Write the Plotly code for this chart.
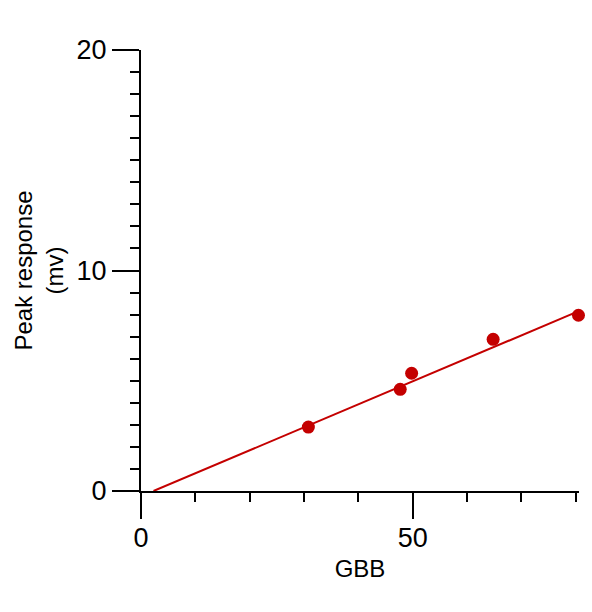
import plotly.graph_objects as go

# Data
gbb = [30.8, 47.7, 49.8, 64.8, 80.5]
peak = [2.90, 4.61, 5.34, 6.88, 7.97]
fit_x = [2.3, 80.0]
fit_y = [0.0, 8.1]

x_major = [0, 50]
x_minor = [10, 20, 30, 40, 60, 70, 80]
y_major = [0, 10, 20]
y_minor = [v for v in range(1, 20) if v % 10 != 0]

RED = "#C40000"
FONT = "Liberation Sans, Arial, sans-serif"

fig = go.Figure()
fig.add_trace(go.Scatter(x=fit_x, y=fit_y, mode="lines",
                         line=dict(color=RED, width=2), showlegend=False,
                         hoverinfo="skip"))
fig.add_trace(go.Scatter(x=gbb, y=peak, mode="markers",
                         marker=dict(color=RED, size=13, line=dict(width=0)),
                         cliponaxis=False, showlegend=False))

fig.update_layout(
    width=592, height=612,
    margin=dict(l=141, r=12.5, t=50, b=121),
    paper_bgcolor="white", plot_bgcolor="white",
    font=dict(family=FONT, size=24, color="black"),
    xaxis=dict(
        range=[0, 80.6], showgrid=False, zeroline=False,
        showline=True, linecolor="black", linewidth=2,
        tickmode="array", tickvals=x_major, ticktext=[str(v) for v in x_major],
        ticks="outside", ticklen=26, tickwidth=2, tickcolor="black",
        ticklabelstandoff=-4,
        tickfont=dict(size=27),
        minor=dict(tickmode="array", tickvals=x_minor, ticks="outside",
                   ticklen=9, tickwidth=2, tickcolor="black", showgrid=False),
        title=dict(text="GBB", font=dict(size=24), standoff=8),
    ),
    yaxis=dict(
        range=[0, 20], showgrid=False, zeroline=False,
        showline=True, linecolor="black", linewidth=2,
        tickmode="array", tickvals=y_major, ticktext=[str(v) for v in y_major],
        ticks="outside", ticklen=27, tickwidth=2, tickcolor="black",
        ticklabelstandoff=0,
        tickfont=dict(size=27),
        minor=dict(tickmode="array", tickvals=y_minor, ticks="outside",
                   ticklen=9, tickwidth=2, tickcolor="black", showgrid=False),
        title=dict(text="Peak response<br>(mv)", font=dict(size=24), standoff=6),
    ),
)

fig.write_html("out.html")
